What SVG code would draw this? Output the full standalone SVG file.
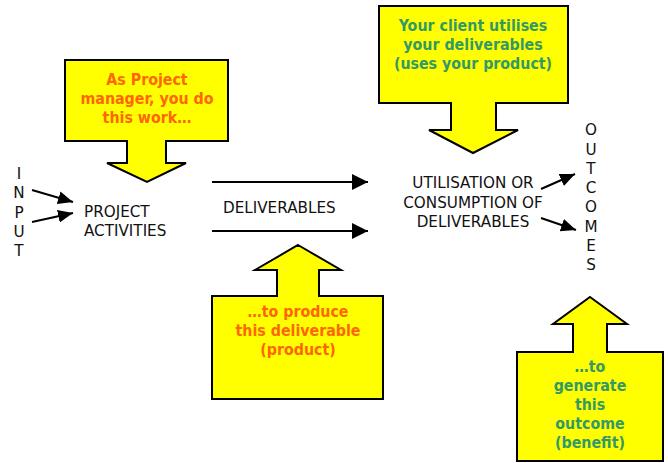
<svg xmlns="http://www.w3.org/2000/svg" width="668" height="463" viewBox="0 0 668 463">
  <defs>
    <marker id="headL" markerUnits="userSpaceOnUse" markerWidth="18" markerHeight="18" viewBox="0 0 18 18" refX="16" refY="9" orient="auto">
      <path d="M0,1 L16,9 L0,17 Z" fill="#000"/>
    </marker>
    <marker id="headS" markerUnits="userSpaceOnUse" markerWidth="16" markerHeight="16" viewBox="0 0 16 16" refX="15" refY="8" orient="auto">
      <path d="M0,1.5 L15,8 L0,14.5 Z" fill="#000"/>
    </marker>
  </defs>
  <style>
    .callout { fill: #ffff00; stroke: #000; stroke-width: 2; stroke-linejoin: miter; }
    .note { font-family: "DejaVu Sans Condensed", "DejaVu Sans", sans-serif; font-stretch: condensed; font-weight: bold; font-size: 15.8px; text-anchor: middle; }
    .orange { fill: #ff6600; }
    .green { fill: #339966; }
    .label { font-family: "DejaVu Sans", "Liberation Sans", sans-serif; font-size: 15.2px; fill: #111; }
    .mid { text-anchor: middle; }
    .conn { stroke: #000; fill: none; stroke-width: 2; }
  </style>

  <!-- work done by the project manager -->
  <g id="pm-note">
    <path class="callout" d="M65,60 H228 V141 H166 V163 H186 L147,182 L107,163 H127 V141 H65 Z"/>
    <text class="note orange" x="147" y="85">As Project</text>
    <text class="note orange" x="147" y="104">manager, you do</text>
    <text class="note orange" x="147" y="123">this work…</text>
  </g>

  <!-- client usage -->
  <g id="client-note">
    <path class="callout" d="M379,6 H568 V103 H496 V130 H518 L473,153 L429,130 H451 V103 H379 Z"/>
    <text class="note green" x="473" y="31">Your client utilises</text>
    <text class="note green" x="473" y="50">your deliverables</text>
    <text class="note green" x="473" y="69">(uses your product)</text>
  </g>

  <!-- deliverable production -->
  <g id="deliverable-note">
    <path class="callout" d="M298,245 L341,270 H319 V296 H383 V399 H212 V296 H277 V270 H255 Z"/>
    <text class="note orange" x="298" y="317">…to produce</text>
    <text class="note orange" x="298" y="336">this deliverable</text>
    <text class="note orange" x="298" y="355">(product)</text>
  </g>

  <!-- benefit generation -->
  <g id="outcome-note">
    <path class="callout" d="M590,297 L627,324 H607 V352 H663 V461 H517 V352 H573 V324 H553 Z"/>
    <text class="note green" x="590" y="372">…to</text>
    <text class="note green" x="590" y="391">generate</text>
    <text class="note green" x="590" y="410">this</text>
    <text class="note green" x="590" y="429">outcome</text>
    <text class="note green" x="590" y="448">(benefit)</text>
  </g>

  <!-- vertical INPUT label -->
  <g id="input" class="label mid">
    <text x="19" y="179">I</text>
    <text x="19" y="198">N</text>
    <text x="19" y="217.5">P</text>
    <text x="19" y="237">U</text>
    <text x="19" y="256">T</text>
  </g>

  <g id="activities" class="label">
    <text x="84" y="217">PROJECT</text>
    <text x="84" y="236">ACTIVITIES</text>
  </g>

  <g id="deliverables" class="label">
    <text x="223" y="213">DELIVERABLES</text>
  </g>

  <g id="utilisation" class="label mid">
    <text x="473" y="188">UTILISATION OR</text>
    <text x="473" y="208">CONSUMPTION OF</text>
    <text x="473" y="227">DELIVERABLES</text>
  </g>

  <!-- vertical OUTCOMES label -->
  <g id="outcomes" class="label mid">
    <text x="591" y="135">O</text>
    <text x="591" y="155">U</text>
    <text x="591" y="174">T</text>
    <text x="591" y="193">C</text>
    <text x="591" y="212">O</text>
    <text x="591" y="232">M</text>
    <text x="591" y="251">E</text>
    <text x="591" y="270">S</text>
  </g>

  <g id="connectors">
    <line class="conn" x1="32" y1="190" x2="73" y2="202" marker-end="url(#headS)"/>
    <line class="conn" x1="32" y1="222" x2="73" y2="213" marker-end="url(#headS)"/>
    <line class="conn" x1="212" y1="182" x2="368" y2="182" marker-end="url(#headL)"/>
    <line class="conn" x1="212" y1="231" x2="368" y2="231" marker-end="url(#headL)"/>
    <line class="conn" x1="541" y1="189" x2="575" y2="174" marker-end="url(#headS)"/>
    <line class="conn" x1="541" y1="218" x2="576" y2="230" marker-end="url(#headS)"/>
  </g>
</svg>
